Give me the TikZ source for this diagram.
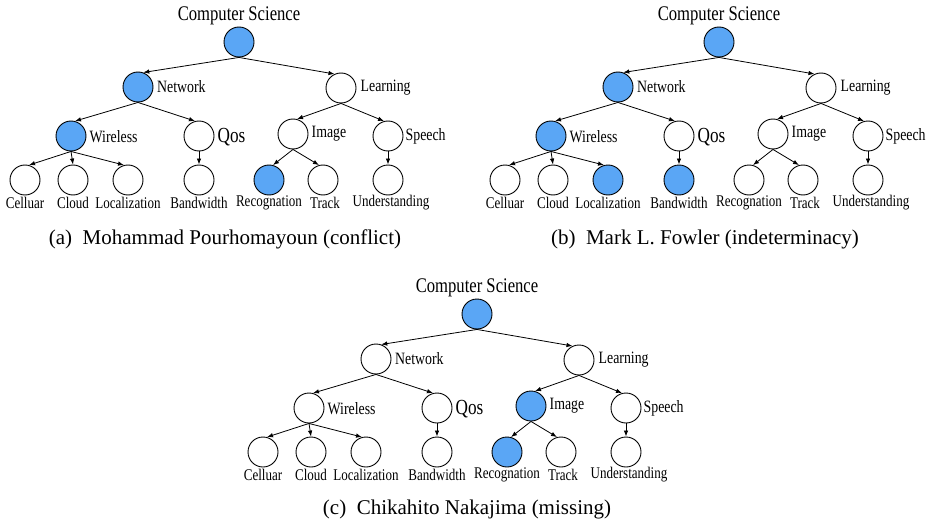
\documentclass[tikz,border=0pt]{standalone}
\usepackage{fontspec}
\usetikzlibrary{arrows.meta,calc}
\setmainfont{Liberation Serif}
\newcommand\tl[2]{{\fontsize{#1}{#1}\selectfont\scalebox{0.8}[1]{#2}}}
\definecolor{hlblue}{RGB}{90,166,245}
\tikzset{
  tn/.style={circle, draw=black, line width=0.9pt, minimum size=30pt, inner sep=0pt, fill=white},
  hl/.style={fill=hlblue},
  edge/.style={draw=black, line width=0.8pt, -{Latex[length=6pt,width=4.5pt]}},
  toplab/.style={inner sep=0pt},
  midlab/.style={anchor=west, inner sep=0pt},
  leaflab/.style={inner sep=0pt},
  caption/.style={inner sep=0pt, font=\fontsize{21}{23}\selectfont},
  n-cs/.style={}, n-net/.style={}, n-learn/.style={}, n-wire/.style={},
  n-qos/.style={}, n-img/.style={}, n-speech/.style={}, n-cell/.style={},
  n-cloud/.style={}, n-loc/.style={}, n-band/.style={}, n-rec/.style={},
  n-track/.style={}, n-und/.style={}
}
\newcommand\drawtree{%
  \node[tn,n-cs]     (cs)     at (239,42)  {};
  \node[tn,n-net]    (net)    at (138,87)  {};
  \node[tn,n-learn]  (learn)  at (341,88)  {};
  \node[tn,n-wire]   (wire)   at (71,136)  {};
  \node[tn,n-qos]    (qos)    at (199,136) {};
  \node[tn,n-img]    (img)    at (293,134) {};
  \node[tn,n-speech] (speech) at (388,136) {};
  \node[tn,n-cell]   (cell)   at (25,180)  {};
  \node[tn,n-cloud]  (cloud)  at (73,180)  {};
  \node[tn,n-loc]    (loc)    at (128,180) {};
  \node[tn,n-band]   (band)   at (199,180) {};
  \node[tn,n-rec]    (rec)    at (269,180) {};
  \node[tn,n-track]  (track)  at (323,180) {};
  \node[tn,n-und]    (und)    at (388,180) {};
  \node[toplab] (csL) at ($(cs)+(0,-26)$) {\tl{20.8}{Computer Science}};
  \node[midlab] (netL) at ($(net.east)+(3.5,0)$) {\tl{17.3}{Network}};
  \node[midlab] (learnL) at ($(learn.east)+(4,0)$) {\tl{17.3}{Learning}};
  \node[midlab] (wireL) at ($(wire.east)+(3,1)$) {\tl{17.3}{Wireless}};
  \node[midlab] (qosL) at ($(qos.east)+(3,1)$) {\tl{21.5}{Qos}};
  \node[midlab] (imgL) at ($(img.east)+(3,0)$) {\tl{17.3}{Image}};
  \node[midlab] (speechL) at ($(speech.east)+(2,0)$) {\tl{17.3}{Speech}};
  \node[leaflab] (cellL) at ($(cell)+(0,23)$) {\tl{16.3}{Celluar}};
  \node[leaflab] (cloudL) at ($(cloud)+(0,23)$) {\tl{16.3}{Cloud}};
  \node[leaflab] (locL) at ($(loc)+(0,23)$) {\tl{16.3}{Localization}};
  \node[leaflab] (bandL) at ($(band)+(0,23)$) {\tl{16.3}{Bandwidth}};
  \node[leaflab] (recL) at ($(rec)+(0,23)$) {\tl{16.3}{Recognation}};
  \node[leaflab] (trackL) at ($(track)+(2,23)$) {\tl{16.3}{Track}};
  \node[leaflab] (undL) at ($(und)+(3,23)$) {\tl{16.3}{Understanding}};
  \draw[edge] (cs.south) -- (net.70);
  \draw[edge] (cs.south) -- (learn.115);
  \draw[edge] (net.south) -- (wire.75);
  \draw[edge] (net.south) -- (qos.105);
  \draw[edge] (learn.south) -- (img.75);
  \draw[edge] (learn.south) -- (speech.105);
  \draw[edge] (wire.south) -- (cell.75);
  \draw[edge] (wire.south) -- (cloud.north);
  \draw[edge] (wire.south) -- (loc.105);
  \draw[edge] (qos.south) -- (band.north);
  \draw[edge] (img.south) -- (rec.75);
  \draw[edge] (img.south) -- (track.105);
  \draw[edge] (speech.south) -- (und.north);
}
\begin{document}
\begin{tikzpicture}[x=1pt,y=-1pt]
  \useasboundingbox (0,0) rectangle (926,524);
  \begin{scope}[name prefix=a-, n-cs/.style=hl, n-net/.style=hl, n-wire/.style=hl, n-rec/.style=hl]
    \drawtree
  \end{scope}
  \begin{scope}[shift={(480,0)}, name prefix=b-, n-cs/.style=hl, n-net/.style=hl, n-wire/.style=hl, n-loc/.style=hl, n-band/.style=hl]
    \drawtree
  \end{scope}
  \begin{scope}[shift={(238,272)}, name prefix=c-, n-cs/.style=hl, n-img/.style=hl, n-rec/.style=hl]
    \drawtree
  \end{scope}
  \node[caption] (capa) at (225,239) {(a)\enspace Mohammad Pourhomayoun (conflict)};
  \node[caption] (capb) at (705,239) {(b)\enspace Mark L. Fowler (indeterminacy)};
  \node[caption] (capc) at (467,509) {(c)\enspace Chikahito Nakajima (missing)};
\end{tikzpicture}
\end{document}
